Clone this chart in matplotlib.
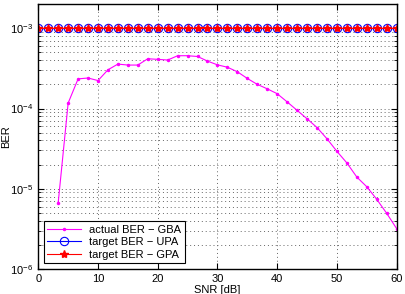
import numpy as np
import matplotlib
matplotlib.use("Agg")
import matplotlib.pyplot as plt
from matplotlib.ticker import LogLocator, NullFormatter

plt.rcParams['font.family'] = ['Liberation Sans', 'DejaVu Sans']

snr = np.linspace(0, 60, 37)
# actual BER (GBA); first two points are zero -> not shown on log axis
ber_gba = [np.nan, np.nan, 6.7e-6, 1.17e-4, 2.34e-4, 2.4e-4, 2.23e-4, 3.04e-4,
           3.58e-4, 3.48e-4, 3.48e-4, 4.17e-4, 4.1e-4, 4.02e-4, 4.55e-4, 4.55e-4,
           4.45e-4, 3.9e-4, 3.5e-4, 3.27e-4, 2.87e-4, 2.37e-4, 2.0e-4, 1.76e-4,
           1.53e-4, 1.21e-4, 9.5e-5, 7.45e-5, 5.8e-5, 4.2e-5, 2.93e-5, 2.1e-5,
           1.4e-5, 1.06e-5, 7.4e-6, 4.95e-6, 3.19e-6]
ber_upa = [1e-3] * 37
ber_gpa = [1e-3] * 37

fig = plt.figure(figsize=(4.06, 2.94), dpi=100)
ax = fig.add_axes([0.0943, 0.085, 0.8826, 0.901])

ax.semilogy(snr, ber_gba, color=(1, 0, 1), marker='.', markersize=3, lw=0.8,
            label='actual BER \u2212 GBA')
ax.semilogy(snr, ber_upa, color='blue', marker='o', markersize=6, mfc='none',
            mew=0.8, lw=0.8, label='target BER \u2212 UPA')
ax.semilogy(snr, ber_gpa, color='red', marker='*', markersize=6, lw=0.8,
            label='target BER \u2212 GPA')

ax.set_xlim(0, 60)
ax.set_ylim(1e-6, 2e-3)
ax.set_xticks(np.arange(0, 61, 10))
ax.yaxis.set_major_locator(LogLocator(base=10, numticks=10))
ax.yaxis.set_minor_locator(LogLocator(base=10, subs=np.arange(2, 10), numticks=20))
ax.yaxis.set_minor_formatter(NullFormatter())

dots = (0, (1, 3))
ax.grid(True, which='major', linestyle=dots, color='#666666', lw=0.7)
ax.grid(True, which='minor', axis='y', linestyle=dots, color='#666666', lw=0.7)

ax.tick_params(which='both', direction='in', top=True, right=True, labelsize=8)
ax.tick_params(which='major', length=4)
ax.tick_params(which='minor', length=2)
for s in ax.spines.values():
    s.set_linewidth(1.0)

ax.set_xlabel('SNR [dB]', fontsize=8, labelpad=1)
ax.set_ylabel('BER', fontsize=8)
ax.yaxis.set_label_coords(-0.075, 0.5)

leg = ax.legend(loc='lower left', fontsize=8, handlelength=3, fancybox=False,
                edgecolor='black', framealpha=1, borderpad=0.3,
                labelspacing=0.25)
leg.get_frame().set_linewidth(0.8)

fig.savefig('out.png', dpi=100)
